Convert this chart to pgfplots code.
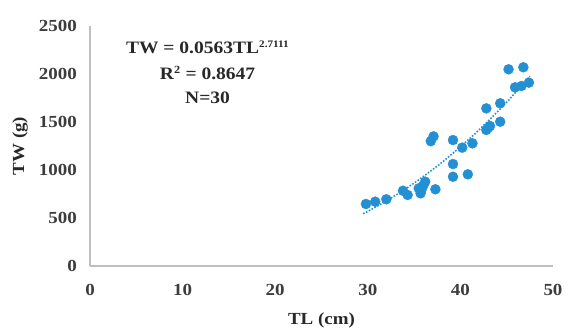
\documentclass[border=0pt]{standalone}
\usepackage{fontspec}
\setmainfont{Liberation Serif}[FakeStretch=1.12]
\usepackage{pgfplots}
\pgfplotsset{compat=1.18}
\definecolor{dotblue}{RGB}{36,144,212}
\definecolor{axgray}{RGB}{191,191,191}
\definecolor{ticktext}{RGB}{60,60,60}
\definecolor{labtext}{RGB}{40,40,40}
\begin{document}
\begin{tikzpicture}
\useasboundingbox (-90bp,-65bp) rectangle (481bp,266bp);
\begin{axis}[
  at={(0,0)}, anchor=south west,
  scale only axis, width=463bp, height=240bp,
  xmin=0, xmax=50, ymin=0, ymax=2500,
  axis x line*=bottom, axis y line*=left,
  axis line style={draw=axgray, line width=1.2pt, -},
  major tick length=0pt,
  xtick={0,10,...,50}, ytick={0,500,...,2500},
  /pgf/number format/assume math mode=true,
  /pgf/number format/1000 sep={},
  ticklabel style={font=\fontsize{17}{17}\selectfont\bfseries, text=ticktext},
  xticklabel style={anchor=center, yshift=-24bp},
  yticklabel style={anchor=east, inner sep=0pt, xshift=-13bp},
  xlabel={TL (cm)}, ylabel={TW (g)},
  label style={font=\fontsize{17}{17}\selectfont\bfseries, text=labtext},
  xlabel style={at={(axis description cs:0.5,-0.225)}, anchor=center},
  ylabel style={at={(axis description cs:-0.151,0.5)}, anchor=center},
  clip=false,
]
\addplot[only marks, mark=*, mark size=5bp, draw=dotblue, fill=dotblue] coordinates {
 (29.8,646) (30.8,670) (32.0,695) (33.8,784) (34.3,740) (35.5,809) (35.7,757)
 (36.2,878) (36.0,840) (35.8,795) (37.3,799) (36.8,1300) (37.1,1350) (39.2,1312)
 (39.2,1062) (39.2,930) (40.8,955) (40.2,1233) (41.3,1278) (42.8,1642) (44.3,1695)
 (42.8,1417) (43.2,1458) (43.0,1440) (44.3,1503) (45.2,2049) (46.8,2070) (45.9,1861)
 (46.6,1875) (47.4,1910)
};
\addplot[dotblue, line width=1.6pt, dash pattern=on 1.6pt off 1.6pt, smooth] coordinates {
 (29.5,544) (30.5,595) (32,678) (33.5,767) (35,864) (36.5,968) (38,1079) (39.5,1200)
 (41,1327) (42.5,1463) (44,1606) (45.5,1759) (46.5,1866) (47.5,1977)
};
\node[font=\fontsize{17.5}{17.5}\selectfont\bfseries, text=labtext] at (axis cs:12.7,2281) {TW = 0.0563TL\textsuperscript{\fontsize{10}{10}\selectfont 2.7111}};
\node[font=\fontsize{17.5}{17.5}\selectfont\bfseries, text=labtext] at (axis cs:12.7,2010) {R\textsuperscript{\fontsize{11}{11}\selectfont 2} = 0.8647};
\node[font=\fontsize{17.5}{17.5}\selectfont\bfseries, text=labtext] at (axis cs:12.7,1750) {N=30};
\end{axis}
\end{tikzpicture}
\end{document}
